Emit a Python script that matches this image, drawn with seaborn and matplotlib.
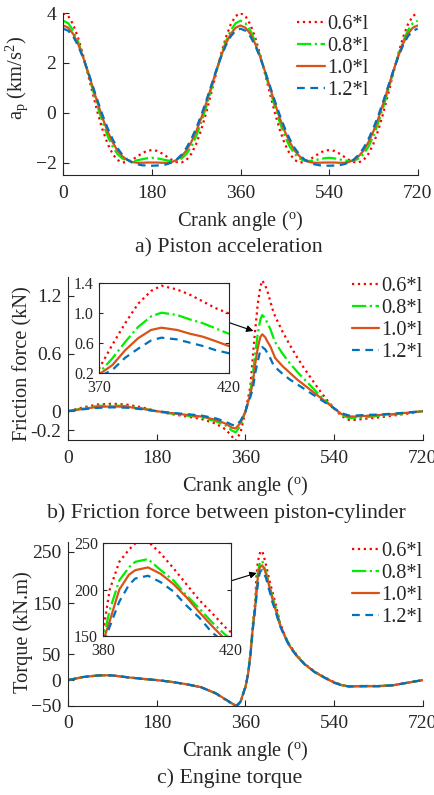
# Three stacked panels: piston acceleration, friction force, engine torque
# for four connecting-rod lengths (0.6*l ... 1.2*l).

import numpy as np
import pandas as pd
import matplotlib
matplotlib.use("Agg")
import matplotlib.pyplot as plt
import seaborn as sns

# ============================================================
# Data
# ============================================================

LABELS = ["0.6*l", "0.8*l", "1.0*l", "1.2*l"]

# --- a) piston acceleration, km/s^2, every 10 deg
ANGLE_A = list(range(0, 721, 10))
ACC_06 = [4.00, 3.88, 3.54, 3.01, 2.32, 1.55, 0.75, -0.02, -0.70, -1.25, -1.65, -1.90, -2.00, -1.98, -1.89, -1.76, -1.63, -1.53, -1.50,
          -1.53, -1.63, -1.76, -1.89, -1.98, -2.00, -1.90, -1.65, -1.25, -0.70, -0.02, 0.75, 1.55, 2.32, 3.01, 3.54, 3.88, 4.00,
          3.88, 3.54, 3.01, 2.32, 1.55, 0.75, -0.02, -0.70, -1.25, -1.65, -1.90, -2.00, -1.98, -1.89, -1.76, -1.63, -1.53, -1.50,
          -1.53, -1.63, -1.76, -1.89, -1.98, -2.00, -1.90, -1.65, -1.25, -0.70, -0.02, 0.75, 1.55, 2.32, 3.01, 3.54, 3.88, 4.00]
ACC_08 = [3.69, 3.59, 3.30, 2.85, 2.27, 1.60, 0.91, 0.22, -0.40, -0.94, -1.36, -1.66, -1.84, -1.93, -1.94, -1.91, -1.87, -1.83, -1.81,
          -1.83, -1.87, -1.91, -1.94, -1.93, -1.84, -1.66, -1.36, -0.94, -0.40, 0.22, 0.91, 1.60, 2.27, 2.85, 3.30, 3.59, 3.69,
          3.59, 3.30, 2.85, 2.27, 1.60, 0.91, 0.22, -0.40, -0.94, -1.36, -1.66, -1.84, -1.93, -1.94, -1.91, -1.87, -1.83, -1.81,
          -1.83, -1.87, -1.91, -1.94, -1.93, -1.84, -1.66, -1.36, -0.94, -0.40, 0.22, 0.91, 1.60, 2.27, 2.85, 3.30, 3.59, 3.69]
ACC_10 = [3.50, 3.41, 3.16, 2.76, 2.24, 1.64, 1.00, 0.37, -0.23, -0.75, -1.18, -1.52, -1.75, -1.90, -1.98, -2.01, -2.01, -2.00, -2.00,
          -2.00, -2.01, -2.01, -1.98, -1.90, -1.75, -1.52, -1.18, -0.75, -0.23, 0.37, 1.00, 1.64, 2.24, 2.76, 3.16, 3.41, 3.50,
          3.41, 3.16, 2.76, 2.24, 1.64, 1.00, 0.37, -0.23, -0.75, -1.18, -1.52, -1.75, -1.90, -1.98, -2.01, -2.01, -2.00, -2.00,
          -2.00, -2.01, -2.01, -1.98, -1.90, -1.75, -1.52, -1.18, -0.75, -0.23, 0.37, 1.00, 1.64, 2.24, 2.76, 3.16, 3.41, 3.50]
ACC_12 = [3.37, 3.29, 3.06, 2.69, 2.21, 1.66, 1.06, 0.46, -0.11, -0.62, -1.06, -1.42, -1.69, -1.88, -2.00, -2.07, -2.11, -2.12, -2.13,
          -2.12, -2.11, -2.07, -2.00, -1.88, -1.69, -1.42, -1.06, -0.62, -0.11, 0.46, 1.06, 1.66, 2.21, 2.69, 3.06, 3.29, 3.37,
          3.29, 3.06, 2.69, 2.21, 1.66, 1.06, 0.46, -0.11, -0.62, -1.06, -1.42, -1.69, -1.88, -2.00, -2.07, -2.11, -2.12, -2.13,
          -2.12, -2.11, -2.07, -2.00, -1.88, -1.69, -1.42, -1.06, -0.62, -0.11, 0.46, 1.06, 1.66, 2.21, 2.69, 3.06, 3.29, 3.37]

# --- b) friction force between piston and cylinder, kN
ANGLE_B = [0, 30, 60, 90, 120, 150, 180, 210, 240, 270, 300, 320, 332, 340, 350, 360, 365, 370, 375, 380, 385,
           390, 394, 400, 405, 410, 415, 420, 435, 450, 465, 480, 495, 510, 525, 540, 555, 570, 585, 600, 630, 660, 690, 720]
FRIC_06 = [0, 0.04, 0.07, 0.078, 0.068, 0.04, 0.0, -0.03, -0.055, -0.08, -0.13, -0.19, -0.26, -0.31, -0.22, 0.0, 0.13, 0.26, 0.57, 0.86, 1.12,
           1.29, 1.36, 1.31, 1.24, 1.15, 1.06, 0.99, 0.83, 0.69, 0.56, 0.44, 0.33, 0.22, 0.12, 0.03, -0.05, -0.09, -0.09, -0.08, -0.065, -0.045, -0.025, 0]
FRIC_08 = [0, 0.03, 0.055, 0.06, 0.053, 0.03, 0.0, -0.025, -0.045, -0.065, -0.105, -0.15, -0.2, -0.22, -0.15, 0.0, 0.1, 0.2, 0.39, 0.61, 0.81,
           0.95, 1.0, 0.97, 0.91, 0.86, 0.79, 0.72, 0.60, 0.50, 0.41, 0.33, 0.25, 0.17, 0.10, 0.03, -0.04, -0.07, -0.07, -0.065, -0.05, -0.035, -0.02, 0]
FRIC_10 = [0, 0.025, 0.045, 0.05, 0.045, 0.025, 0.0, -0.02, -0.038, -0.055, -0.09, -0.13, -0.17, -0.18, -0.12, 0.0, 0.09, 0.18, 0.30, 0.50, 0.66,
           0.77, 0.80, 0.77, 0.72, 0.68, 0.62, 0.556, 0.47, 0.40, 0.33, 0.27, 0.21, 0.15, 0.09, 0.03, -0.03, -0.055, -0.055, -0.05, -0.04, -0.03, -0.015, 0]
FRIC_12 = [0, 0.02, 0.035, 0.04, 0.036, 0.02, 0.0, -0.017, -0.03, -0.045, -0.075, -0.11, -0.14, -0.15, -0.1, 0.0, 0.08, 0.15, 0.235, 0.40, 0.52,
           0.63, 0.667, 0.644, 0.60, 0.556, 0.50, 0.46, 0.39, 0.33, 0.28, 0.23, 0.18, 0.13, 0.08, 0.03, -0.02, -0.045, -0.045, -0.04, -0.035, -0.025, -0.013, 0]

# --- c) engine torque, kN.m
ANGLE_C = [0, 30, 60, 75, 90, 120, 150, 180, 210, 240, 270, 300, 320, 335, 342, 350, 360, 365, 370, 375, 380, 382, 385, 388,
           390, 394, 398, 402, 406, 410, 414, 418, 420, 430, 440, 450, 465, 480, 500, 520, 540, 555, 570, 600, 630, 660, 690, 720]
TORQ_06 = [0, 6, 9, 9.5, 9, 5.5, 2.5, 0, -3.5, -8, -14, -26, -39, -48, -51, -43, -14, 12, 52, 110, 156, 200, 230, 243,
           250, 252, 239, 223, 206, 189, 175, 160, 154, 112, 87, 68, 48, 32, 17, 6, -4, -9, -12, -11.5, -11.5, -10, -5, 0]
TORQ_08 = [0, 6, 9, 9.5, 9, 5.5, 2.5, 0, -3.5, -8, -14, -26, -38, -47, -50, -42, -13, 11, 50, 106, 147, 178, 210, 224,
           230, 233, 221, 210, 194, 180, 165, 152, 147, 110, 86, 67, 47, 31, 16, 5.5, -4.5, -9.5, -12, -11.5, -11.5, -10, -5, 0]
TORQ_10 = [0, 6, 9, 9.5, 9, 5.5, 2.5, 0, -3.5, -8, -14, -26, -38, -47, -50, -42, -13, 10, 49, 104, 145, 166, 200, 216,
           221, 224, 217, 206, 192, 176, 161, 147, 141, 108, 85, 66, 46, 31, 16, 5, -5, -10, -12.5, -12, -12, -10, -5, 0]
TORQ_12 = [0, 6, 9, 9.5, 9, 5.5, 2.5, 0, -3.5, -8, -14, -26, -38, -47, -50, -42, -12, 10, 48, 100, 142, 160, 187, 205,
           212, 215, 208, 198, 183, 170, 154, 143, 137, 106, 84, 65, 46, 31, 16, 5, -5, -10, -12.5, -12, -12, -10, -5, 0]

# ============================================================
# Style
# ============================================================

STYLES = {
    "0.6*l": {"color": "#ff0000", "linestyle": ":"},
    "0.8*l": {"color": "#00ee00", "linestyle": "-."},
    "1.0*l": {"color": "#d95319", "linestyle": "-"},
    "1.2*l": {"color": "#0072bd", "linestyle": (0, (3.5, 2.5))},
}
INK = "#262626"
LW = 1.6
FS_TICK = 14
FS_LABEL = 14.7
FS_CAPTION = 15.7
FS_INSET = 11.5

sns.set_style("ticks")
plt.rcParams["font.family"] = ["Liberation Serif", "DejaVu Serif"]
plt.rcParams["mathtext.fontset"] = "custom"
plt.rcParams["mathtext.rm"] = "Liberation Serif"
plt.rcParams["mathtext.it"] = "Liberation Serif:italic"
plt.rcParams["mathtext.bf"] = "Liberation Serif:bold"

XLABEL = r"Crank angle ($^\mathrm{o}$)"

# ============================================================
# Helpers
# ============================================================

def draw_lines(ax, x, series, with_label=True):
    for label, y in zip(LABELS, series):
        df = pd.DataFrame({"angle": x, "value": y})
        sns.lineplot(data=df, x="angle", y="value", ax=ax, linewidth=LW,
                     label=label if with_label else None, legend=False,
                     **STYLES[label])
    ax.set_xlabel("")
    ax.set_ylabel("")


def style_main(ax, ylim, yticks, ylabel, label_xy):
    ax.set_xlim(0, 720)
    ax.set_ylim(*ylim)
    ax.set_xticks([0, 180, 360, 540, 720])
    ax.set_yticks(yticks)
    ax.tick_params(direction="in", length=4, width=0.8, colors=INK,
                   labelsize=FS_TICK, pad=5)
    ax.tick_params(axis="x", pad=7)
    for side in ["top", "right"]:
        ax.spines[side].set_visible(False)
    for side in ["left", "bottom"]:
        ax.spines[side].set_color(INK)
        ax.spines[side].set_linewidth(0.8)
    ax.set_xlabel(XLABEL, fontsize=FS_LABEL, color=INK, labelpad=5)
    ax.set_ylabel(ylabel, fontsize=FS_LABEL, color=INK)
    ax.yaxis.set_label_coords(*label_xy)


def style_inset(ax, xlim, ylim, xticks, yticks, fmt):
    ax.set_xlim(*xlim)
    ax.set_ylim(*ylim)
    ax.set_xticks(xticks)
    ax.set_yticks(yticks)
    ax.set_yticklabels([fmt.format(v) for v in yticks])
    ax.tick_params(direction="in", length=3, width=0.8, colors=INK,
                   labelsize=FS_INSET, top=True, right=True)
    ax.tick_params(axis="y", pad=4)
    ax.tick_params(axis="x", pad=5)
    for side in ax.spines.values():
        side.set_color(INK)
        side.set_linewidth(0.8)
        side.set_visible(True)
    ax.set_facecolor("white")


def add_legend(ax, anchor, loc):
    handles, labels = ax.get_legend_handles_labels()
    ax.legend(handles, labels, loc=loc, bbox_to_anchor=anchor, frameon=False,
              fontsize=FS_LABEL, handlelength=1.35, handletextpad=0.1,
              labelspacing=0.13, borderpad=0.0, borderaxespad=0.0,
              labelcolor=INK)


# ============================================================
# Figure
# ============================================================

fig = plt.figure(figsize=(4.35, 7.95), dpi=100)

# --- a) piston acceleration
ax_a = fig.add_axes([0.1456, 0.7799, 0.8146, 0.2037])
draw_lines(ax_a, ANGLE_A, [ACC_06, ACC_08, ACC_10, ACC_12])
style_main(ax_a, (-2.5, 4), [-2, 0, 2, 4], r"a$_\mathrm{p}$ (km/s$^2$)", (-0.095, 0.6))
add_legend(ax_a, (0.66, 0.99), "upper left")
fig.text(0.526, 0.688, "a) Piston acceleration", ha="center", va="center",
         fontsize=FS_CAPTION, color=INK)

# --- b) friction force
ax_b = fig.add_axes([0.157, 0.4465, 0.8147, 0.2055])
draw_lines(ax_b, ANGLE_B, [FRIC_06, FRIC_08, FRIC_10, FRIC_12])
style_main(ax_b, (-0.3, 1.4), [-0.2, 0, 0.6, 1.2], "Friction force (kN)", (-0.1, 0.47))
ax_b.set_yticklabels(["-0.2", "0", "0.6", "1.2"])
add_legend(ax_b, (1.0, 1.0), "upper right")
ax_b.annotate("", xy=(376, 0.835), xytext=(326, 0.923),
              arrowprops=dict(arrowstyle="-|>", color="black", lw=0.8,
                              mutation_scale=10, shrinkA=0, shrinkB=0))
ins_b = fig.add_axes([0.2283, 0.5312, 0.2975, 0.1132])
draw_lines(ins_b, ANGLE_B, [FRIC_06, FRIC_08, FRIC_10, FRIC_12], with_label=False)
style_inset(ins_b, (370, 420), (0.2, 1.4), [370, 420], [0.2, 0.6, 1.0, 1.4], "{:.1f}")
fig.text(0.520, 0.3547, "b) Friction force between piston-cylinder",
         ha="center", va="center", fontsize=FS_CAPTION, color=INK)

# --- c) engine torque
ax_c = fig.add_axes([0.157, 0.1123, 0.8147, 0.2063])
draw_lines(ax_c, ANGLE_C, [TORQ_06, TORQ_08, TORQ_10, TORQ_12])
style_main(ax_c, (-50, 270), [-50, 0, 50, 150, 250], "Torque (kN.m)", (-0.1, 0.45))
add_legend(ax_c, (1.0, 1.0), "upper right")
ax_c.annotate("", xy=(382.7, 209), xytext=(330.5, 193.6),
              arrowprops=dict(arrowstyle="-|>", color="black", lw=0.8,
                              mutation_scale=10, shrinkA=0, shrinkB=0))
ins_c = fig.add_axes([0.2375, 0.2, 0.2935, 0.1166])
draw_lines(ins_c, ANGLE_C, [TORQ_06, TORQ_08, TORQ_10, TORQ_12], with_label=False)
style_inset(ins_c, (380, 420), (150, 250), [380, 420], [150, 200, 250], "{:.0f}")
fig.text(0.527, 0.0214, "c) Engine torque", ha="center", va="center",
         fontsize=FS_CAPTION, color=INK)

fig.savefig("out.png", dpi=100)
plt.close(fig)
